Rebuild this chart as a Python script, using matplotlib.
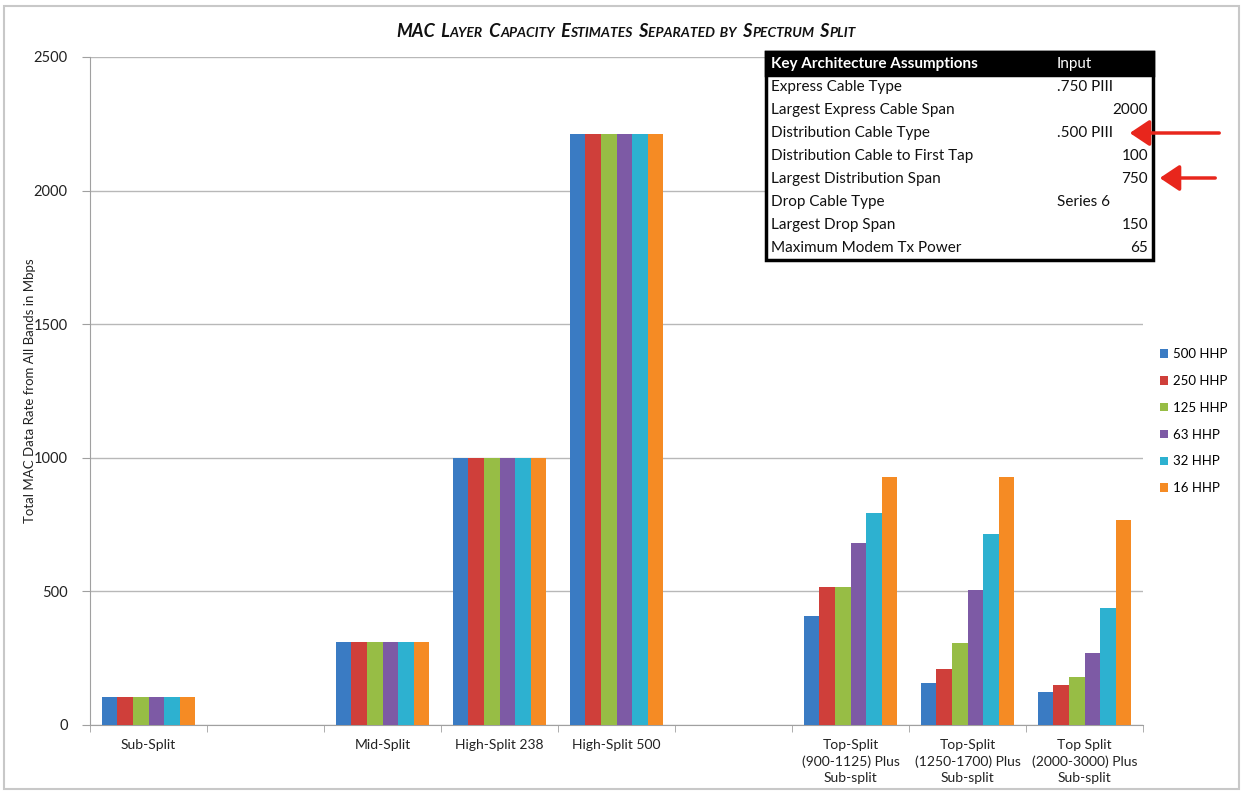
import numpy as np
import matplotlib
matplotlib.use('Agg')
import matplotlib.pyplot as plt
from matplotlib.patches import Rectangle, FancyArrowPatch

plt.rcParams['font.family'] = ['Lato', 'DejaVu Sans']

# categories along the x axis (blank slots are left empty)
categories = ['Sub-Split', '', 'Mid-Split', 'High-Split 238', 'High-Split 500', '',
              'Top-Split\n(900-1125) Plus\nSub-split',
              'Top-Split\n(1250-1700) Plus\nSub-split',
              'Top Split\n(2000-3000) Plus\nSub-split']

series_names = ['500 HHP', '250 HHP', '125 HHP', '63 HHP', '32 HHP', '16 HHP']
nan = np.nan
hhp_500 = [105, nan, 310, 1000, 2210, nan, 408, 156, 122]
hhp_250 = [105, nan, 310, 1000, 2210, nan, 517, 208, 149]
hhp_125 = [105, nan, 310, 1000, 2210, nan, 517, 306, 181]
hhp_63 = [105, nan, 310, 1000, 2210, nan, 681, 505, 271]
hhp_32 = [105, nan, 310, 1000, 2210, nan, 794, 715, 437]
hhp_16 = [105, nan, 310, 1000, 2210, nan, 929, 929, 767]
series = [hhp_500, hhp_250, hhp_125, hhp_63, hhp_32, hhp_16]
colors = ['#3a7bc3', '#cf3f3a', '#97bd45', '#7d5aa5', '#2db1d0', '#f58b24']

# assumptions table
table_items = ['Express Cable Type', 'Largest Express Cable Span', 'Distribution Cable Type',
               'Distribution Cable to First Tap', 'Largest Distribution Span', 'Drop Cable Type',
               'Largest Drop Span', 'Maximum Modem Tx Power']
table_inputs = ['.750 PIII', '2000', '.500 PIII', '100', '750', 'Series 6', '150', '65']

W, H = 1243, 791
fig = plt.figure(figsize=(W / 100, H / 100), dpi=100)
ax = fig.add_axes([90 / W, 1 - 725 / H, 1053 / W, 668 / H])

x = np.arange(len(categories))
n = len(series)
bw = 0.8 / n
for i, (vals, c, name) in enumerate(zip(series, colors, series_names)):
    ax.bar(x - 0.4 + bw * (i + 0.5), vals, bw, color=c, label=name, zorder=3)

ax.set_xlim(-0.5, len(categories) - 0.5)
ax.set_ylim(0, 2500)
ax.set_yticks(np.arange(0, 2501, 500))
ax.yaxis.grid(True, color='#b8b8b8', lw=1, zorder=0)
ax.tick_params(axis='y', length=6, color='#a0a0a0', labelsize=10.5, pad=10, labelcolor='#222222')
ax.set_xticks(x)
ax.set_xticklabels(categories, fontsize=10, color='#222222', linespacing=1.4)
ax.tick_params(axis='x', length=0, pad=10)
ax.set_xticks(np.arange(-0.5, len(categories), 1), minor=True)
ax.tick_params(axis='x', which='minor', length=5, color='#a0a0a0')
for s in ['top', 'right']:
    ax.spines[s].set_visible(False)
for s in ['left', 'bottom']:
    ax.spines[s].set_color('#a0a0a0')
ax.set_ylabel('Total MAC Data Rate from All Bands in Mbps', fontsize=9.5, color='#222222')
ax.yaxis.set_label_coords(-(90 - 36) / 1053, 0.5)

# legend on the right
fig.legend(loc='upper left', bbox_to_anchor=(1155 / W, 1 - 343 / H), frameon=False,
           fontsize=9.5, handlelength=0.6, handleheight=0.6, handletextpad=0.4,
           labelspacing=1.12, borderaxespad=0)

# title in small caps
title_parts = [('MAC', 13), (' L', 13), ('AYER', 10), (' C', 13), ('APACITY', 10),
               (' E', 13), ('STIMATES', 10), (' S', 13), ('EPARATED BY', 10),
               (' S', 13), ('PECTRUM', 10), (' S', 13), ('PLIT', 10)]
renderer = fig.canvas.get_renderer()
ty = 1 - 37 / H
pieces = []
for s, size in title_parts:
    t = fig.text(0, ty, s.replace(' ', '\u2009 '), fontsize=size, fontweight='bold',
                 fontstyle='italic', va='baseline', color='#111111')
    pieces.append(t)
widths = [p.get_window_extent(renderer).width for p in pieces]
xpos = 626 - sum(widths) / 2
for p, w in zip(pieces, widths):
    p.set_x(xpos / W)
    xpos += w

# assumptions table
tx0, tx1 = 766, 1153
ty0, ty1 = 52, 260
row_h = (ty1 - ty0) / 9
fig.patches.append(Rectangle((tx0 / W, 1 - ty1 / H), (tx1 - tx0) / W, (ty1 - ty0) / H,
                             transform=fig.transFigure, facecolor='white', edgecolor='black',
                             lw=2.5, zorder=5))
fig.patches.append(Rectangle((tx0 / W, 1 - (ty0 + row_h) / H), (tx1 - tx0) / W, row_h / H,
                             transform=fig.transFigure, facecolor='black', edgecolor='black',
                             lw=2.5, zorder=5))
fig.text(771 / W, 1 - (ty0 + row_h / 2) / H, 'Key Architecture Assumptions', color='white',
         fontsize=11, fontweight='bold', va='center', zorder=6)
fig.text(1057 / W, 1 - (ty0 + row_h / 2) / H, 'Input', color='white',
         fontsize=11, va='center', zorder=6)
for i, (item, val) in enumerate(zip(table_items, table_inputs)):
    yc = 1 - (ty0 + row_h * (i + 1.5)) / H
    fig.text(771 / W, yc, item, fontsize=11, va='center', color='#111111', zorder=6)
    if val[0].isdigit():
        fig.text(1148 / W, yc, val, fontsize=11, va='center', ha='right', color='#111111', zorder=6)
    else:
        fig.text(1057 / W, yc, val, fontsize=11, va='center', color='#111111', zorder=6)

# red arrows pointing at the changed inputs
for y_arrow, x_start, x_end in [(133, 1222, 1127), (178, 1218, 1157)]:
    fig.add_artist(FancyArrowPatch(
        (x_start / W, 1 - y_arrow / H), (x_end / W, 1 - y_arrow / H),
        transform=fig.transFigure, arrowstyle='-|>,head_length=6,head_width=4',
        color='#e8261c', lw=2.5, mutation_scale=2, zorder=10))

# outer chart frame
fig.patches.append(Rectangle((4 / W, 2 / H), (W - 8) / W, (H - 8) / H, transform=fig.transFigure,
                             facecolor='none', edgecolor='#c8c8c8', lw=1.5))

fig.savefig('out.png', dpi=100)
